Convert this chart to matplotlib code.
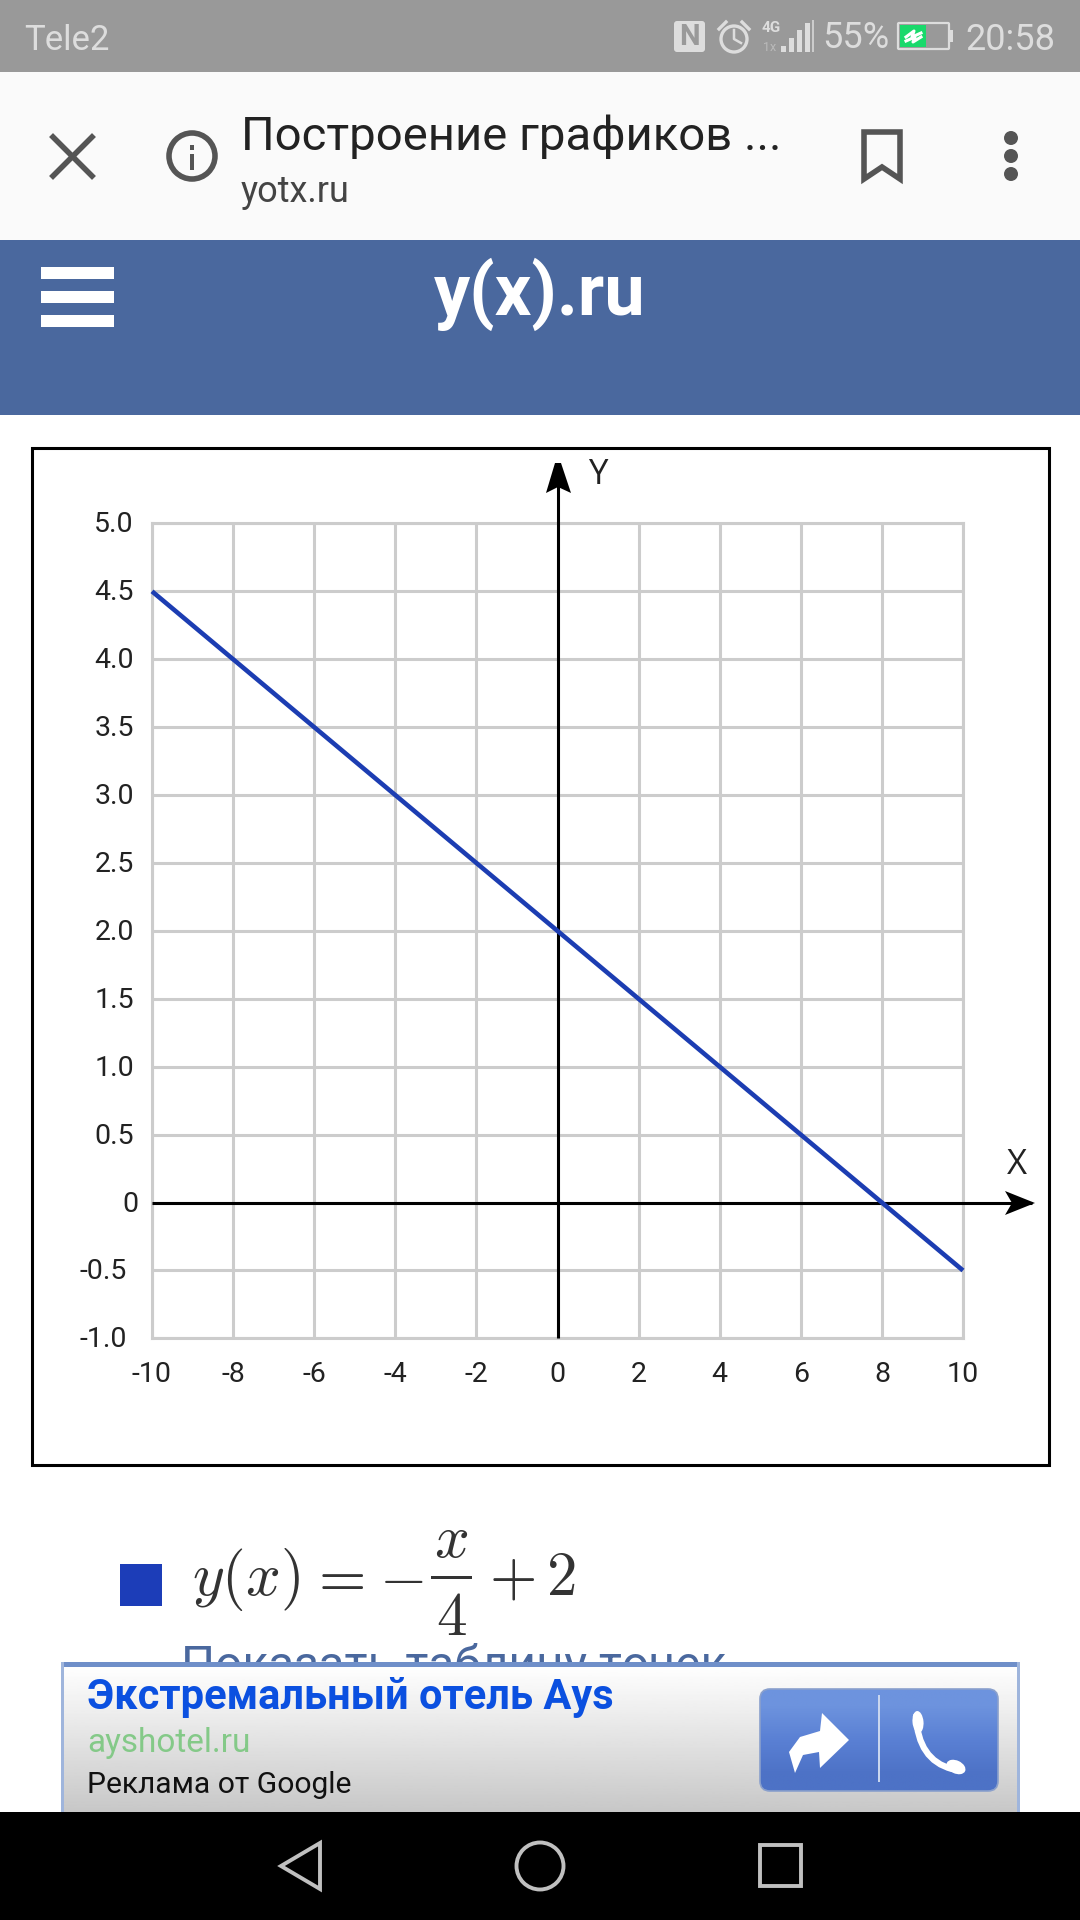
import matplotlib
matplotlib.use('Agg')
import matplotlib.pyplot as plt
import matplotlib.patches as mpatches
from matplotlib.path import Path
from matplotlib.transforms import ScaledTranslation
import numpy as np


x_ticks = [-10, -8, -6, -4, -2, 0, 2, 4, 6, 8, 10]
y_ticks = [-1.0, -0.5, 0, 0.5, 1.0, 1.5, 2.0, 2.5, 3.0, 3.5, 4.0, 4.5, 5.0]
y_labels = ['-1.0', '-0.5', '0', '0.5', '1.0', '1.5', '2.0', '2.5', '3.0', '3.5', '4.0', '4.5', '5.0']
line_x = [-10, 0, 8, 10]
line_y = [4.5, 2.0, 0, -0.5]

W, H = 1080, 1920
blue_line = '#1c3db2'
plt.rcParams['font.family'] = ['Roboto', 'DejaVu Sans']

fig = plt.figure(figsize=(W/100, H/100), dpi=100, facecolor='white')

# screen in pixel coordinates
bg = fig.add_axes([0, 0, 1, 1], zorder=0)
bg.set_xlim(0, W)
bg.set_ylim(H, 0)
bg.axis('off')


def rect(x0, y0, x1, y1, color, z=1, **kw):
    bg.add_patch(mpatches.Rectangle((x0, y0), x1-x0, y1-y0, facecolor=color, edgecolor='none', zorder=z, **kw))


def label(x, y, s, size, color='#222222', z=5, **kw):
    bg.text(x, y, s, fontsize=size, color=color, zorder=z, va=kw.pop('va', 'baseline'), **kw)


# status bar
rect(0, 0, W, 72, '#999999')
label(24, 50, 'Tele2', 25, color='#dddddd')
label(822, 48, '55%', 26, color='#dddddd')
label(1055, 50, '20:58', 26, color='#dddddd', ha='right')
bg.add_patch(mpatches.FancyBboxPatch((677, 24), 25, 25, boxstyle='round,pad=3', facecolor='#dddddd', edgecolor='none', zorder=3))
label(689.5, 45, 'N', 21, color='#999999', ha='center', fontweight='bold')
bg.add_patch(mpatches.Circle((734, 39), 13, facecolor='none', edgecolor='#dddddd', lw=2.4, zorder=3))
bg.plot([734, 734, 741], [30, 39, 43], color='#dddddd', lw=1.8, zorder=3)
bg.plot([719, 726], [29, 22], color='#dddddd', lw=2.4, zorder=3)
bg.plot([742, 749], [22, 29], color='#dddddd', lw=2.4, zorder=3)
label(771, 32, '4G', 11, color='#dddddd', ha='center', fontweight='bold')
label(770, 51, '1x', 9, color='#bbbbbb', ha='center')
for bx, top in zip([781, 789, 797, 805], [46, 38, 30, 23]):
    rect(bx, top, bx+5, 52, '#dddddd', z=3)
rect(812, 20, 814, 52, '#cccccc', z=3)
bg.add_patch(mpatches.FancyBboxPatch((899, 24), 49, 24, boxstyle='round,pad=1', facecolor='#999999', edgecolor='#dddddd', lw=1.6, zorder=3))
rect(900, 25, 926, 47, '#19d96b', z=4)
rect(950, 30, 953, 42, '#dddddd', z=3)
bg.plot([906, 914, 912, 921], [37, 31, 37, 33], color='white', lw=2.2, zorder=5)
bg.plot([906, 915, 913, 921], [41, 37, 42, 37], color='white', lw=2.2, zorder=5)

# browser bar
rect(0, 72, W, 240, '#fafafa')
bg.plot([53, 92], [137, 176], color='#555555', lw=4, zorder=3)
bg.plot([53, 92], [176, 137], color='#555555', lw=4, zorder=3)
bg.add_patch(mpatches.Circle((192, 156), 23, facecolor='none', edgecolor='#555555', lw=4, zorder=3))
rect(190, 154, 194, 170, '#555555', z=3)
rect(190, 145, 194, 150, '#555555', z=3)
label(241, 150, 'Построение графиков ...', 34)
label(241, 202, 'yotx.ru', 26, color='#444444')
bg.add_patch(mpatches.Polygon([(864, 132), (900, 132), (900, 179), (882, 167), (864, 179)], closed=True, facecolor='none', edgecolor='#555555', lw=4, zorder=3))
for dy in [138, 156, 174]:
    bg.add_patch(mpatches.Ellipse((1011, dy), 14, 14, facecolor='#555555', edgecolor='none', zorder=3))

# site header
rect(0, 240, W, 415, '#4a689e')
for hy in [267, 291, 315]:
    rect(41, hy, 114, hy+12, 'white', z=3)
label(540, 315, 'y(x).ru', 52, color='white', ha='center', fontweight='bold')

# chart frame
bg.add_patch(mpatches.Rectangle((32, 448), 1017, 1017, facecolor='white', edgecolor='black', lw=2.2, zorder=1))

# legend row under the chart, formula set piece by piece for the tall fraction
rect(120, 1564, 162, 1606, '#1c3db8')
for fx, part in [(192, '$y(x)$'), (308, '$=$'), (379, '$-$'), (489, '$+$'), (546, '$2$')]:
    label(fx, 1595, part, 44, color='#333333', math_fontfamily='cm')
label(451, 1557, '$x$', 44, color='#333333', ha='center', math_fontfamily='cm')
label(451, 1635, '$4$', 44, color='#333333', ha='center', math_fontfamily='cm')
rect(431, 1576, 472, 1579, '#333333')
label(181, 1680, 'Показать таблицу точек', 34.5, color='#4a689e', z=2)

# ad banner
grad = np.linspace(1, 0, 100).reshape(-1, 1)
bg.imshow(grad, extent=(63, 1018, 1812, 1665), cmap='gray', vmin=-3.6, vmax=1, aspect='auto', zorder=3)
rect(61, 1662, 1020, 1667, '#6f8fc9', z=4)
rect(61, 1662, 64, 1812, '#9fb5dc', z=4)
rect(1017, 1662, 1020, 1812, '#9fb5dc', z=4)
label(87, 1709, 'Экстремальный отель Ays', 30, color='#0b50e0', fontweight='bold')
label(87, 1752, 'ayshotel.ru', 24, color='#84c988')
label(87, 1793, 'Реклама от Google', 21.6, color='#111111')
btn = mpatches.FancyBboxPatch((770, 1699), 218, 82, boxstyle='round,pad=10', facecolor='none', edgecolor='#8aa0cc', lw=1.2, zorder=5)
bg.add_patch(btn)
btn_colors = np.array([[0x6d, 0x93, 0xde], [0x5a, 0x80, 0xd4], [0x4d, 0x72, 0xc6]]) / 255
btn_grad = bg.imshow(btn_colors[:, None, :], extent=(760, 998, 1791, 1689), aspect='auto', interpolation='bilinear', zorder=4)
btn_grad.set_clip_path(btn)
rect(878, 1695, 880, 1782, '#c9d6ee', z=5)
bg.add_patch(mpatches.Polygon([(795, 1773), (789, 1752), (800, 1737), (820, 1731), (822, 1713), (849, 1740), (820, 1768), (819, 1752), (803, 1755)], closed=True, facecolor='white', edgecolor='none', zorder=6))
phone = Path([(916, 1716), (918, 1760), (952, 1769)], [Path.MOVETO, Path.CURVE3, Path.CURVE3])
bg.add_patch(mpatches.PathPatch(phone, facecolor='none', edgecolor='white', lw=4.5, capstyle='round', zorder=6))
bg.add_patch(mpatches.Ellipse((918, 1722), 11, 22, angle=-5, facecolor='white', edgecolor='none', zorder=6))
bg.add_patch(mpatches.Ellipse((956, 1767), 20, 13, angle=25, facecolor='white', edgecolor='none', zorder=6))

# nav bar
rect(0, 1812, W, H, 'black', z=8)
bg.add_patch(mpatches.Polygon([(320, 1843), (320, 1889), (281, 1866)], closed=True, facecolor='none', edgecolor='#c0c0c0', lw=2.8, zorder=9))
bg.add_patch(mpatches.Ellipse((540, 1866), 47, 47, facecolor='none', edgecolor='#c0c0c0', lw=2.8, zorder=9))
bg.add_patch(mpatches.Rectangle((760, 1845), 41, 41, facecolor='none', edgecolor='#c0c0c0', lw=2.8, zorder=9))
bg.set_xlim(0, W)
bg.set_ylim(H, 0)

# chart
ax1 = fig.add_axes([152/W, 1-1338.4/H, 811/W, 815/H], zorder=2)
ax1.patch.set_visible(False)
ax1.set_xlim(-10, 10)
ax1.set_ylim(-1, 5)
ax1.xaxis.grid(True, linestyle='-', linewidth=2.2, color='#cccccc')
ax1.yaxis.grid(True, linestyle='-', linewidth=2.2, color='#cccccc')
ax1.set_axisbelow(True)
for s in ax1.spines.values():
    s.set_color('#cccccc')
    s.set_linewidth(2.2)

fontSize = 20.5
ax1.set_xticks(x_ticks)
ax1.set_xticklabels([str(t) for t in x_ticks], fontsize=fontSize, color='#222222')
ax1.set_yticks(y_ticks)
ax1.set_yticklabels(y_labels, fontsize=fontSize, color='#222222')
ax1.tick_params(axis='both', length=0)
ax1.tick_params(axis='x', pad=16)
ax1.tick_params(axis='y', pad=13)

# the y labels are not flush: negatives sit further left, the 0 further right
for t, txt in zip(ax1.get_yticklabels(), y_labels):
    dx = -7 if txt.startswith('-') else (5 if txt == '0' else 0)
    t.set_transform(t.get_transform() + ScaledTranslation(dx/100, 1.5/100, fig.dpi_scale_trans))

# axis lines run past the grid up to the arrow heads
ax1.plot([0, 0], [-1, 5.4], color='black', lw=2.2, solid_capstyle='butt', zorder=4, clip_on=False)
ax1.plot([-10, 11.7], [0, 0], color='black', lw=2.2, solid_capstyle='butt', zorder=4, clip_on=False)
ax1.plot(line_x, line_y, color=blue_line, lw=3.3, solid_capstyle='butt', zorder=5, clip_on=False)

head_y = [(555, 463), (561, 463), (571, 493), (558, 487), (546, 493)]
head_x = [(1035, 1203), (1005, 1191), (1012, 1203), (1005, 1215)]
for head in [head_y, head_x]:
    ax1.add_patch(mpatches.Polygon(head, closed=True, facecolor='black', edgecolor='none', transform=bg.transData, clip_on=False, zorder=6))
ax1.text(598, 475, 'Y', fontsize=25, color='#222222', ha='center', va='center', family='Open Sans', transform=bg.transData)
ax1.text(1017, 1165, 'X', fontsize=25, color='#222222', ha='center', va='center', family='Open Sans', transform=bg.transData)

plt.savefig('out.png', dpi=100)
